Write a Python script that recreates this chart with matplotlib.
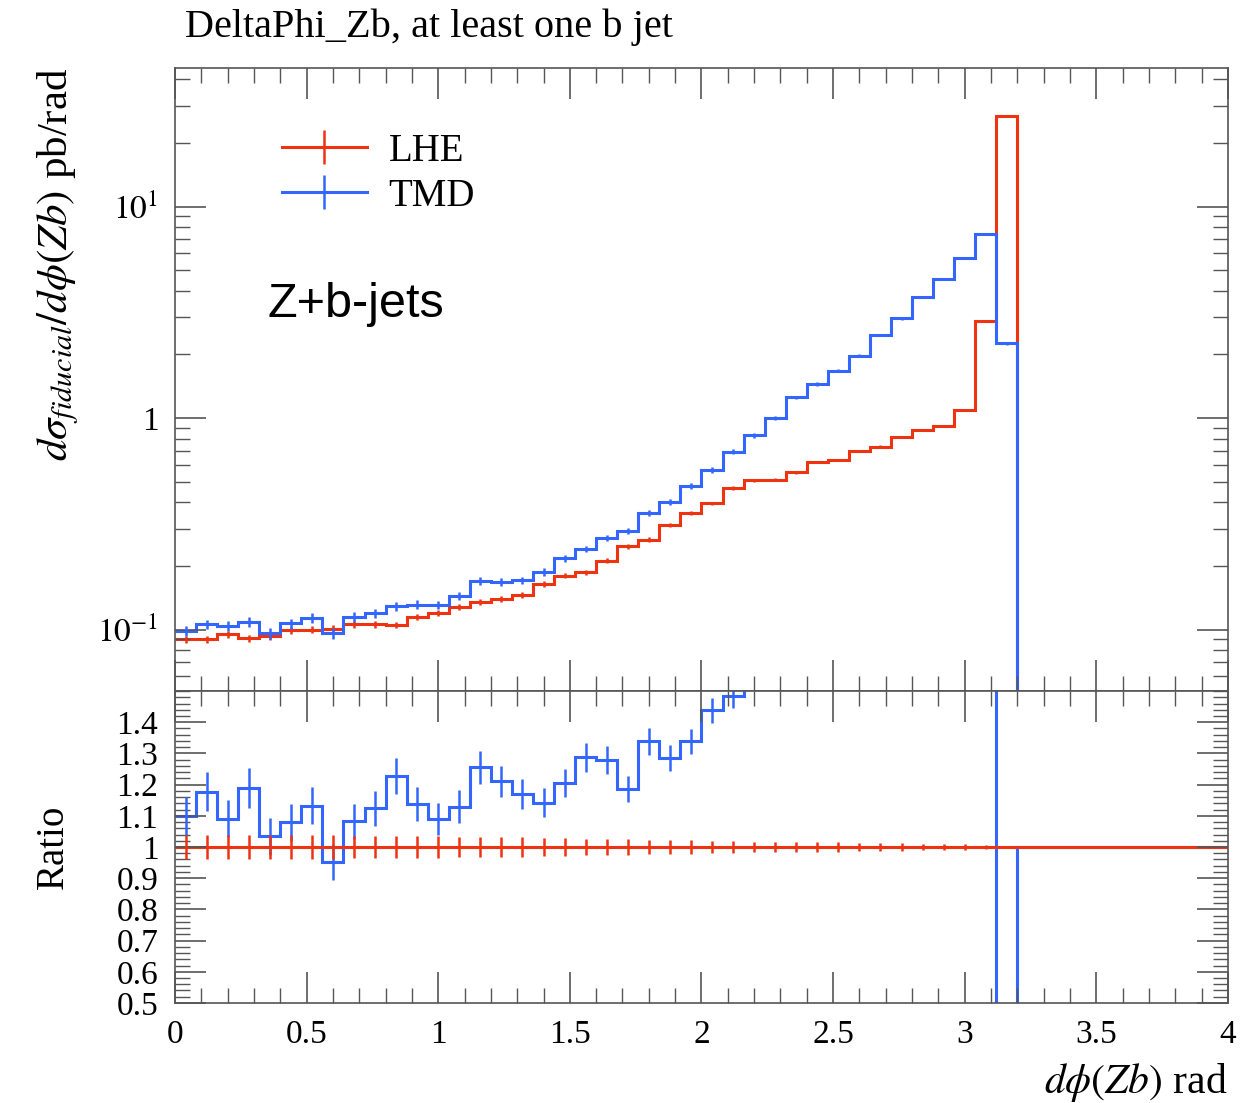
import numpy as np
import matplotlib
matplotlib.use("Agg")
import matplotlib.pyplot as plt
from matplotlib.lines import Line2D
from matplotlib.ticker import (MultipleLocator, FixedLocator, FixedFormatter, NullFormatter,
                               LogLocator, FuncFormatter)

plt.rcParams['font.family'] = ['Liberation Serif', 'DejaVu Serif']
plt.rcParams['mathtext.fontset'] = 'stix'

# binning: 40 bins of 0.08 rad from 0 to 3.2
edges = np.round(np.arange(0, 3.2001, 0.08), 4)
centers = 0.5 * (edges[:-1] + edges[1:])

lhe = [0.090, 0.090, 0.095, 0.091, 0.093, 0.099, 0.100, 0.101, 0.106, 0.106,
       0.105, 0.115, 0.120, 0.128, 0.135, 0.139, 0.146, 0.164, 0.180, 0.187,
       0.212, 0.247, 0.266, 0.312, 0.357, 0.395, 0.467, 0.507, 0.511, 0.553,
       0.620, 0.633, 0.698, 0.732, 0.816, 0.878, 0.920, 1.091, 2.874, 26.8]
tmd = [0.0989, 0.106, 0.1036, 0.1083, 0.0962, 0.1068, 0.1133, 0.0961, 0.1148, 0.1191,
       0.1288, 0.1309, 0.1308, 0.1446, 0.1696, 0.1682, 0.1708, 0.1873, 0.2169, 0.2409,
       0.271, 0.293, 0.356, 0.401, 0.478, 0.568, 0.693, 0.828, 1.00, 1.252,
       1.448, 1.675, 1.971, 2.469, 2.96, 3.72, 4.52, 5.69, 7.39, 2.256]
# relative uncertainties
lhe_err = [0.040, 0.040, 0.039, 0.040, 0.039, 0.038, 0.038, 0.037, 0.036, 0.036,
           0.036, 0.035, 0.034, 0.033, 0.032, 0.032, 0.031, 0.030, 0.029, 0.027,
           0.026, 0.025, 0.024, 0.022, 0.021, 0.020, 0.018, 0.017, 0.017, 0.016,
           0.015, 0.015, 0.014, 0.013, 0.012, 0.011, 0.010, 0.009, 0.005, 0.002]
tmd_err = [0.055, 0.052, 0.055, 0.054, 0.058, 0.055, 0.053, 0.060, 0.052, 0.050,
           0.047, 0.048, 0.048, 0.046, 0.042, 0.042, 0.042, 0.040, 0.038, 0.036,
           0.035, 0.035, 0.032, 0.032, 0.030, 0.028, 0.026, 0.024, 0.022, 0.020,
           0.018, 0.017, 0.016, 0.014, 0.013, 0.012, 0.011, 0.010, 0.009, 0.015]

lhe = np.array(lhe)
tmd = np.array(tmd)
lhe_err = np.array(lhe_err)
tmd_err = np.array(tmd_err)
ratio = tmd / lhe

red = '#EE3311'
blue = '#3366FF'
lw = 2.2

fig = plt.figure(figsize=(12.57, 11.03), dpi=100)
ax = fig.add_axes([0.1392, 0.3735, 0.8377, 0.5649])
axr = fig.add_axes([0.1392, 0.0907, 0.8377, 0.2828], sharex=ax)

# --- main panel (empty bin after 3.2 so the histogram drops to zero)
x_ext = np.append(edges, 4.0)
ax.stairs(np.append(lhe, 1e-4), x_ext, baseline=None, color=red, lw=lw)
ax.errorbar(centers, lhe, yerr=lhe * lhe_err, fmt='none', ecolor=red, elinewidth=1.8)
ax.stairs(np.append(tmd, 1e-4), x_ext, baseline=None, color=blue, lw=lw)
ax.errorbar(centers, tmd, yerr=tmd * tmd_err, fmt='none', ecolor=blue, elinewidth=1.8)

ax.set_yscale('log')
ax.set_ylim(0.0512, 45.2)
ax.set_xlim(0, 4)
ax.yaxis.set_major_locator(FixedLocator([0.1, 1, 10]))
ax.yaxis.set_major_formatter(FixedFormatter([r'$10^{-1}$', '1', r'$10^{1}$']))
ax.yaxis.set_minor_locator(LogLocator(base=10, subs=np.arange(2, 10)))
ax.yaxis.set_minor_formatter(NullFormatter())
ax.tick_params(axis='x', labelbottom=False)
ax.set_ylabel(r'$d\sigma_{fiducial}/d\phi(Zb)$ pb/rad', fontsize=31, loc='top', labelpad=12)

ax.text(0.088, 0.62, 'Z+b-jets', transform=ax.transAxes, fontsize=35,
        family='Liberation Sans', ha='left', va='center')

handles = [Line2D([], [], color=red, lw=lw, marker='|', markersize=24, markeredgewidth=1.8),
           Line2D([], [], color=blue, lw=lw, marker='|', markersize=24, markeredgewidth=1.8)]
ax.legend(handles, ['LHE', 'TMD'], loc='upper left', bbox_to_anchor=(0.068, 0.952),
          frameon=False, fontsize=28, handlelength=2.2, handletextpad=0.55,
          labelspacing=0.2)

# --- ratio panel
axr.stairs(np.append(ratio, 1.0), x_ext, baseline=None, color=blue, lw=lw)
axr.errorbar(centers, ratio, yerr=ratio * tmd_err, fmt='none', ecolor=blue, elinewidth=1.8)
axr.stairs(np.ones(len(x_ext) - 1), x_ext, baseline=None, color=red, lw=lw)
axr.errorbar(centers, np.ones(len(centers)), yerr=lhe_err, fmt='none', ecolor=red, elinewidth=1.8)

axr.set_ylim(0.5, 1.5)
axr.set_xlim(0, 4)
axr.yaxis.set_major_locator(FixedLocator(np.round(np.arange(0.5, 1.41, 0.1), 2)))
axr.yaxis.set_major_formatter(FuncFormatter(lambda v, p: '%g' % round(v, 2)))
axr.yaxis.set_minor_locator(MultipleLocator(0.02))
axr.xaxis.set_major_locator(MultipleLocator(0.5))
axr.xaxis.set_minor_locator(MultipleLocator(0.1))
axr.xaxis.set_major_formatter(FuncFormatter(lambda v, p: '%g' % round(v, 2)))
axr.set_ylabel('Ratio', fontsize=28, labelpad=32)
axr.set_xlabel(r'$d\phi(Zb)$ rad', fontsize=30, loc='right', labelpad=8)

for a in (ax, axr):
    a.tick_params(which='both', direction='in', top=True, right=True, color='#555555')
    a.tick_params(which='major', length=22, width=1.2, labelsize=24, pad=12)
    a.tick_params(which='minor', length=11, width=1.0)
    for s in a.spines.values():
        s.set_color('#555555')
        s.set_linewidth(1.2)

fig.text(0.147, 0.9665, 'DeltaPhi_Zb, at least one b jet', fontsize=29,
         ha='left', va='baseline')

fig.savefig('out.png', dpi=100)
